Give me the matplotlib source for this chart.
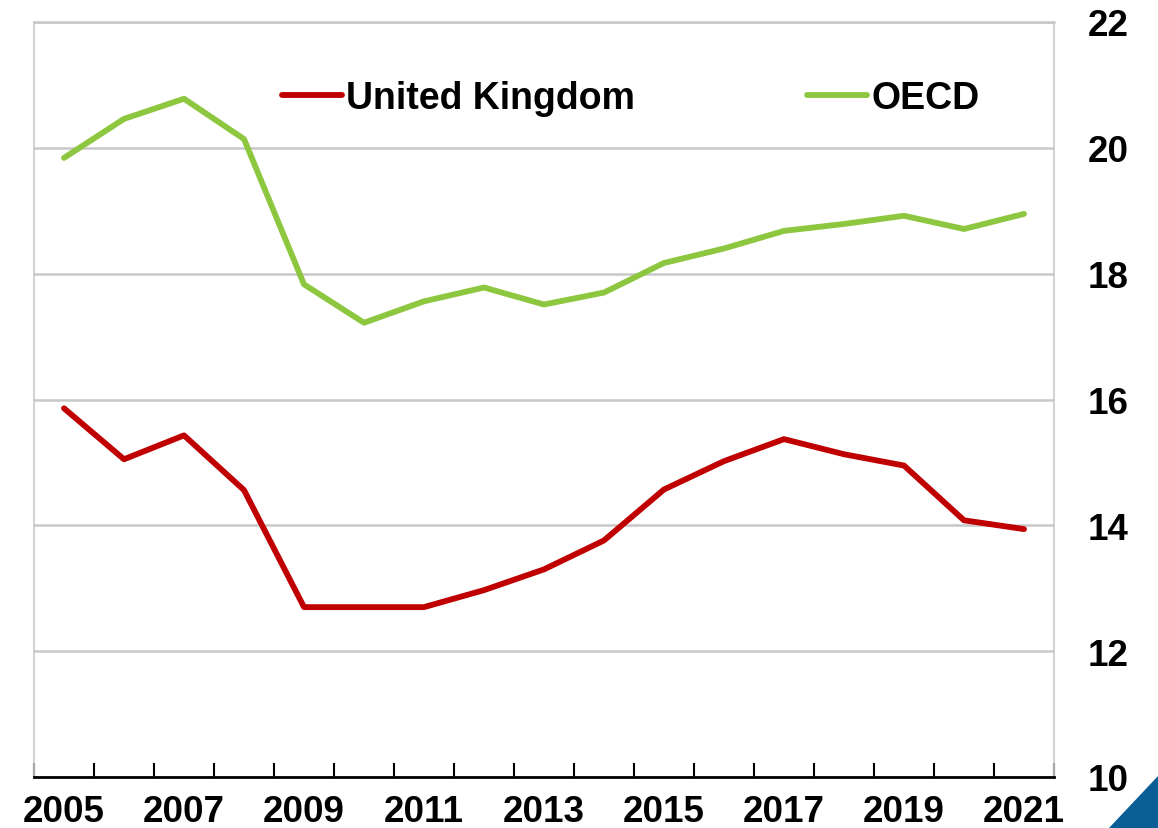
import matplotlib.pyplot as plt
from matplotlib.patches import Polygon

plt.rcParams['font.family'] = ['Liberation Sans', 'DejaVu Sans']
plt.rcParams['font.weight'] = 'bold'

years = list(range(2005, 2022))
uk = [15.86, 15.05, 15.43, 14.56, 12.70, 12.70, 12.70, 12.97, 13.30, 13.76,
      14.57, 15.02, 15.37, 15.13, 14.95, 14.08, 13.94]
oecd = [19.84, 20.46, 20.78, 20.14, 17.83, 17.22, 17.56, 17.78, 17.51, 17.70,
        18.17, 18.40, 18.68, 18.79, 18.92, 18.71, 18.95]
year_labels = [str(y) for y in range(2005, 2022, 2)]

fig = plt.figure(figsize=(11.58, 8.29), dpi=100)
ax = fig.add_axes([34 / 1158, 1 - 778 / 829, 1020 / 1158, 755 / 829])

ax.plot(years, uk, color='#C00000', lw=4.2, label='United Kingdom', solid_capstyle='round')
ax.plot(years, oecd, color='#8DC63F', lw=4.2, label='OECD', solid_capstyle='round')

ax.set_xlim(2004.5, 2021.5)
ax.set_ylim(10, 22)
ax.set_yticks(range(10, 23, 2))
ax.yaxis.tick_right()
ax.tick_params(axis='y', length=0, pad=24, labelsize=26.5)
for lbl in ax.get_yticklabels():
    lbl.set_fontweight('bold')
ax.grid(axis='y', color='#C8C8C8', lw=1.8)
ax.set_axisbelow(True)

# year boundaries get the tick marks, labels sit on the years themselves
ax.set_xticks([y + 0.5 for y in range(2004, 2022)])
ax.set_xticklabels([])
ax.set_xticks(list(range(2005, 2022, 2)), minor=True)
ax.set_xticklabels(year_labels, minor=True, fontsize=26.5, fontweight='bold')
ax.tick_params(axis='x', which='major', direction='in', length=10, width=1.5, color='black')
ax.tick_params(axis='x', which='minor', length=0, pad=12)

for side in ['left', 'top', 'right']:
    ax.spines[side].set_color('#C8C8C8')
    ax.spines[side].set_linewidth(1.2)
ax.spines['top'].set_linewidth(1.8)
ax.spines['bottom'].set_color('black')
ax.spines['bottom'].set_linewidth(2)

leg = ax.legend(loc='upper center', bbox_to_anchor=(0.585, 0.968), ncol=2, frameon=False,
                fontsize=27, handlelength=1.6, handletextpad=0.1, columnspacing=4.6)
for t in leg.get_texts():
    t.set_fontweight('bold')

# blue corner triangle
fig.patches.append(Polygon([[1109 / 1158, 0], [1, 0], [1, 1 - 777 / 829]], closed=True,
                           transform=fig.transFigure, color='#0A5E96'))

fig.savefig('out.png', dpi=100)
